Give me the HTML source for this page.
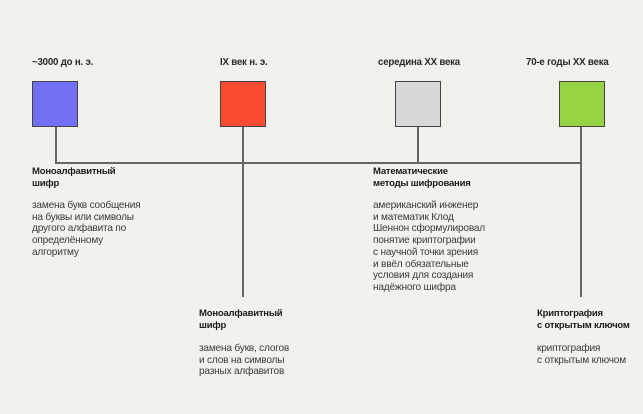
<!DOCTYPE html>
<html><head><meta charset="utf-8"><style>
body{margin:0;width:643px;height:414px;background:#f2f1ed;position:relative;overflow:hidden;font-family:"Liberation Sans","Noto Sans CJK SC",sans-serif;color:#2a2a2a}
div{position:absolute}
.l{font-size:9.7px;font-weight:bold;letter-spacing:-0.2px}
.t{font-size:9.5px;font-weight:bold;line-height:12px;letter-spacing:-0.2px;color:#1a1a1a}
.b{font-size:10.1px;line-height:11.7px;color:#3a3a3a;letter-spacing:-0.2px}
.box{width:44px;height:44px;border:1px solid #444}
.v{width:2px;background:#666}
</style></head><body>
<div class="l" style="left:32px;top:57px">~3000 до н. э.</div>
<div class="l" style="left:220px;top:57px">IX век н. э.</div>
<div class="l" style="left:378px;top:57px">середина XX века</div>
<div class="l" style="left:526px;top:57px">70-е годы XX века</div>
<div class="box" style="left:32px;top:81px;background:#7370f6"></div>
<div class="box" style="left:220px;top:81px;background:#f94b30"></div>
<div class="box" style="left:395px;top:81px;background:#d8d8d8"></div>
<div class="box" style="left:559px;top:81px;background:#96d444"></div>
<div style="left:55px;top:162px;width:527px;height:2px;background:#666"></div>
<div class="v" style="left:55px;top:127px;height:36px"></div>
<div class="v" style="left:242px;top:127px;height:170px"></div>
<div class="v" style="left:417px;top:127px;height:36px"></div>
<div class="v" style="left:580px;top:127px;height:170px"></div>
<div class="t" style="left:32px;top:166px">Моноалфавитный<br>шифр</div>
<div class="b" style="left:32px;top:200px">замена букв сообщения<br>на буквы или символы<br>другого алфавита по<br>определённому<br>алгоритму</div>
<div class="t" style="left:373px;top:166px">Математические<br>методы шифрования</div>
<div class="b" style="left:373px;top:200px">американский инженер<br>и математик Клод<br>Шеннон сформулировал<br>понятие криптографии<br>с научной точки зрения<br>и ввёл обязательные<br>условия для создания<br>надёжного шифра</div>
<div class="t" style="left:199px;top:308px">Моноалфавитный<br>шифр</div>
<div class="b" style="left:199px;top:343px">замена букв, слогов<br>и слов на символы<br>разных алфавитов</div>
<div class="t" style="left:537px;top:308px">Криптография<br>с открытым ключом</div>
<div class="b" style="left:537px;top:343px">криптография<br>с открытым ключом</div>
</body></html>
